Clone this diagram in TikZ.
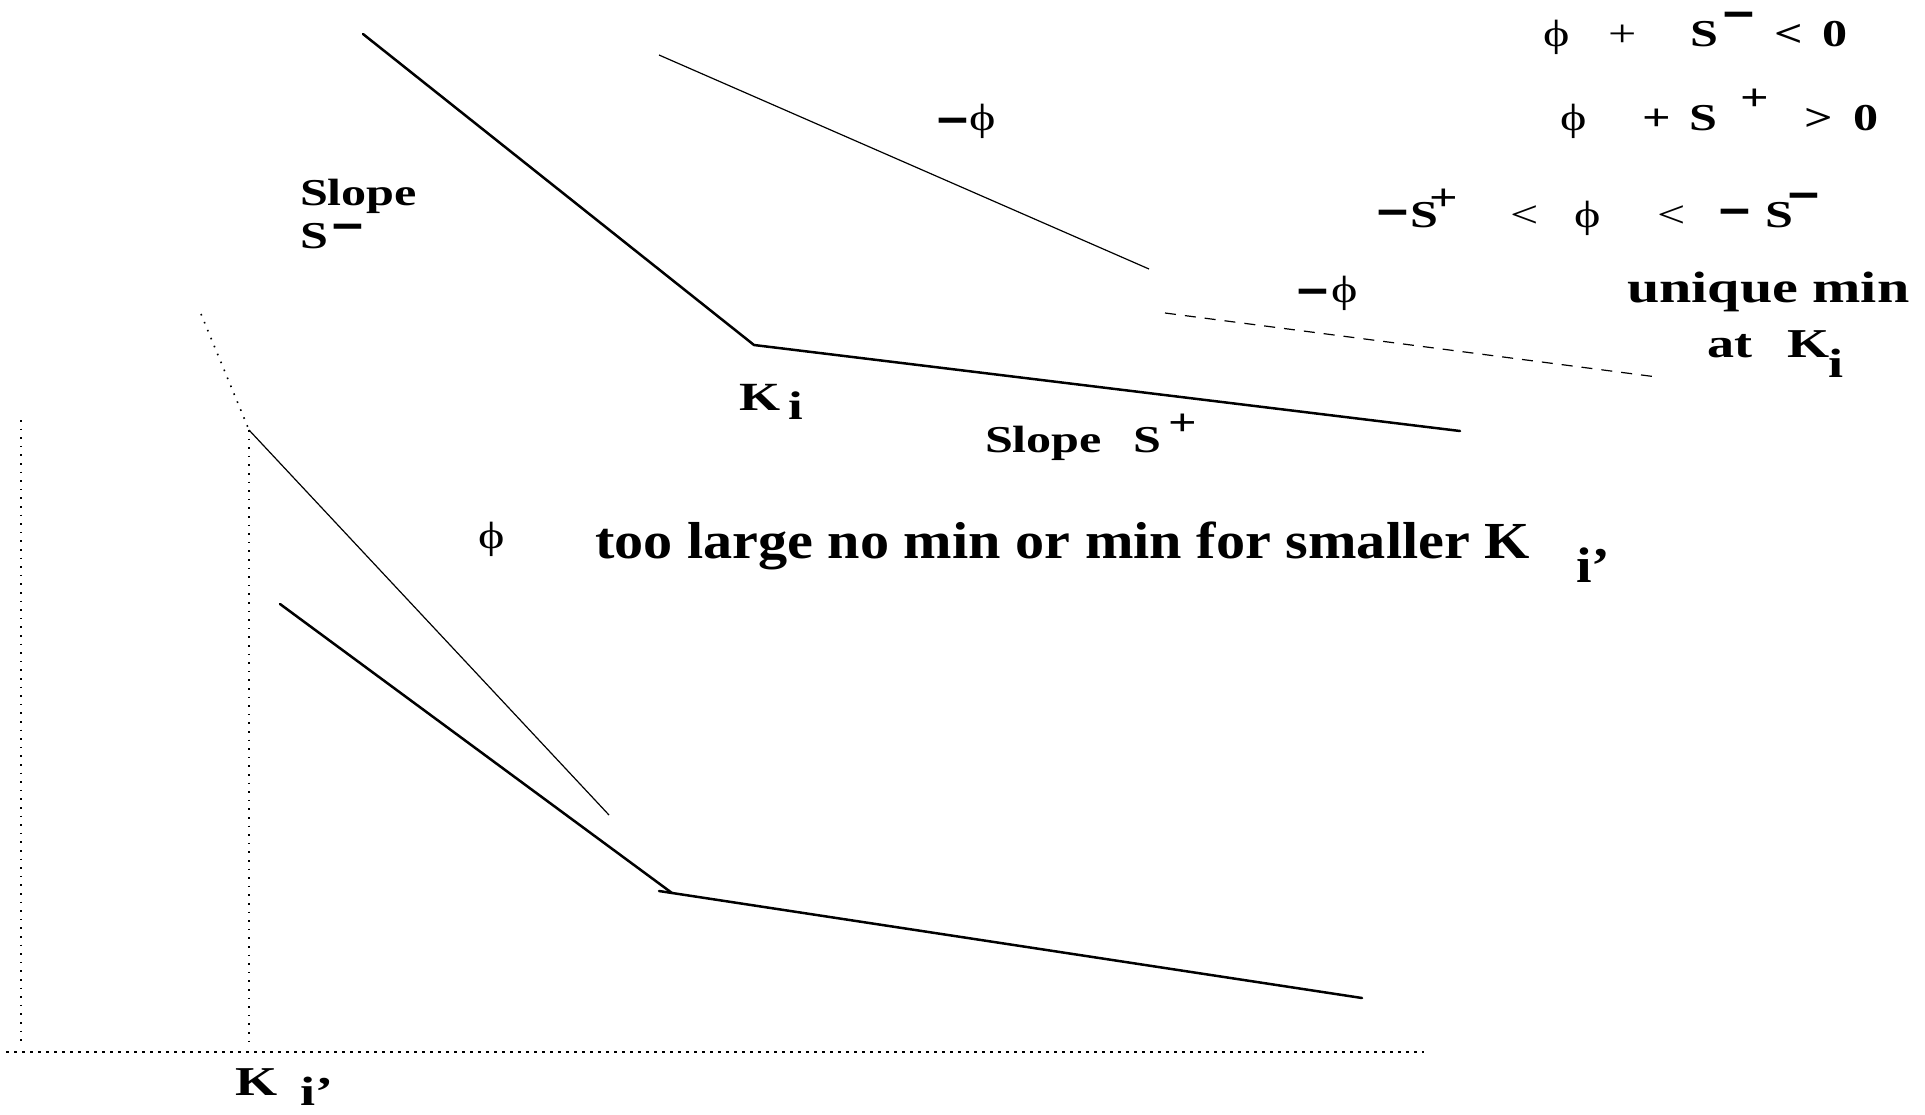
\documentclass[tikz,border=0pt]{standalone}
\usepackage{fontspec}
\setmainfont{Liberation Serif}[FakeStretch=1.32]
\newfontfamily\tlfont{Liberation Serif}[FakeStretch=1.12]
\newfontfamily\minusfont{DejaVu Sans}
\newcommand{\phig}{\textmd{ϕ}}
\begin{document}
\begin{tikzpicture}[x=1pt,y=-1pt,
  lbl/.style={inner sep=0pt,outer sep=0pt,font=\fontsize{38}{40}\selectfont\bfseries},
  lblw/.style={lbl,anchor=base west},
  lblb/.style={lbl,anchor=base},
  mns/.style={inner sep=0pt,outer sep=0pt,anchor=base,text height=0.36em,text depth=-0.2em,font=\fontsize{44}{46}\selectfont\minusfont\bfseries},
  thickln/.style={line width=2.5pt,line cap=round,line join=miter},
  thinln/.style={line width=1.2pt},
  dotln/.style={line width=1.6pt,dash pattern=on 1.6pt off 7pt},
  hdotln/.style={line width=1.4pt,dash pattern=on 3pt off 5pt},
  dashln/.style={line width=1.2pt,dash pattern=on 11pt off 9pt}]
\useasboundingbox (0,0) rectangle (1925,1114);
% coordinates
\coordinate (u1) at (363,34);
\coordinate (u2) at (754,345);
\coordinate (u3) at (1460,431);
\coordinate (t1) at (659,55);
\coordinate (t2) at (1149,269);
\coordinate (d1) at (1165,313);
\coordinate (d2) at (1657,377);
\coordinate (s1) at (201,314);
\coordinate (s2) at (249,430);
\coordinate (m2) at (609,815);
\coordinate (l1) at (280,604);
\coordinate (l2) at (672,893);
\coordinate (l3) at (659,891);
\coordinate (l4) at (1362,998);
\coordinate (v1) at (21,420);
\coordinate (v1b) at (21,1041);
\coordinate (v2b) at (249,1041);
\coordinate (h1) at (6,1052);
\coordinate (h2) at (1424,1052);
% lines
\draw[thickln] (u1) -- (u2) -- (u3);
\draw[thinln] (t1) -- (t2);
\draw[dashln] (d1) -- (d2);
\draw[dotln] (s1) -- (s2);
\draw[thinln] (s2) -- (m2);
\draw[thickln] (l1) -- (l2);
\draw[thickln] (l3) -- (l4);
\draw[dotln] (v1) -- (v1b);
\draw[dotln] (s2) -- (v2b);
\draw[hdotln] (h1) -- (h2);
% top right line 1
\node[lblb] (a1) at (1557,46) {\phig};
\node[lblb] (a2) at (1623,46) {\textmd{+}};
\node[lblw] (a3) at (1690,46) {S};
\node[mns] (a4) at (1739,28) {−};
\node[lblb] (a5) at (1789,46) {<};
\node[lblb] (a6) at (1835,46) {0};
% line 2
\node[lblb] (b1) at (1574,130) {\phig};
\node[lblb] (b2) at (1657,130) {+};
\node[lblw] (b3) at (1689,130) {S};
\node[lbl] (b4) at (1755,100) {+};
\node[lblb] (b5) at (1819,130) {>};
\node[lblb] (b6) at (1866,130) {0};
% line 3
\node[mns] (c1) at (1393,226) {−};
\node[lblw] (c2) at (1410,227) {S};
\node[lbl] (c3) at (1444,200) {+};
\node[lblb] (c4) at (1525,227) {\textmd{<}};
\node[lblb] (c5) at (1588,227) {\phig};
\node[lblb] (c6) at (1672,227) {\textmd{<}};
\node[mns] (c7) at (1735,225) {−};
\node[lblw] (c8) at (1765,227) {S};
\node[mns] (c9) at (1804,209) {−};
% unique min
\node[lblw,font=\fontsize{44}{46}\selectfont\bfseries] (un) at (1627,302) {unique min};
\node[lblw,font=\fontsize{41}{43}\selectfont\bfseries] (at) at (1707,357) {at};
\node[lblw,font=\fontsize{41}{43}\selectfont\bfseries] (atK) at (1787,357) {K};
\node[lblw,font=\fontsize{41}{43}\selectfont\bfseries] (ati) at (1828,377) {i};
% minus phi labels
\node[mns] (mp1m) at (953,134) {−};
\node[lblb] (mp1) at (983,130) {\phig};
\node[mns] (mp2m) at (1313,305) {−};
\node[lblb] (mp2) at (1345,302) {\phig};
% slope S-
\node[lblw] (sl1) at (300,205) {Slope};
\node[lblw] (sl1s) at (300,248) {S};
\node[mns] (sl1m) at (348,240) {−};
% K_i
\node[lblw,font=\fontsize{40}{42}\selectfont\bfseries] (Ki) at (739,410) {K};
\node[lblw,font=\fontsize{40}{42}\selectfont\bfseries] (Kis) at (788,419) {i};
% slope S+
\node[lblw] (sl2) at (985,452) {Slope};
\node[lblw] (sl2s) at (1133,452) {S};
\node[lbl] (sl2p) at (1183,425) {+};
% phi too large
\node[lblb] (ph) at (492,548) {\phig};
\node[lblw,font=\fontsize{52}{54}\selectfont\tlfont\bfseries] (tl) at (595,558) {too large no min or min for smaller K};
\node[lblw,font=\fontsize{50}{52}\selectfont\tlfont\bfseries] (tli) at (1576,582) {i’};
% K i'
\node[lblw,font=\fontsize{41}{43}\selectfont\bfseries] (Kp) at (235,1095) {K};
\node[lblw,font=\fontsize{41}{43}\selectfont\bfseries] (Kpi) at (300,1105) {i’};
\end{tikzpicture}
\end{document}
